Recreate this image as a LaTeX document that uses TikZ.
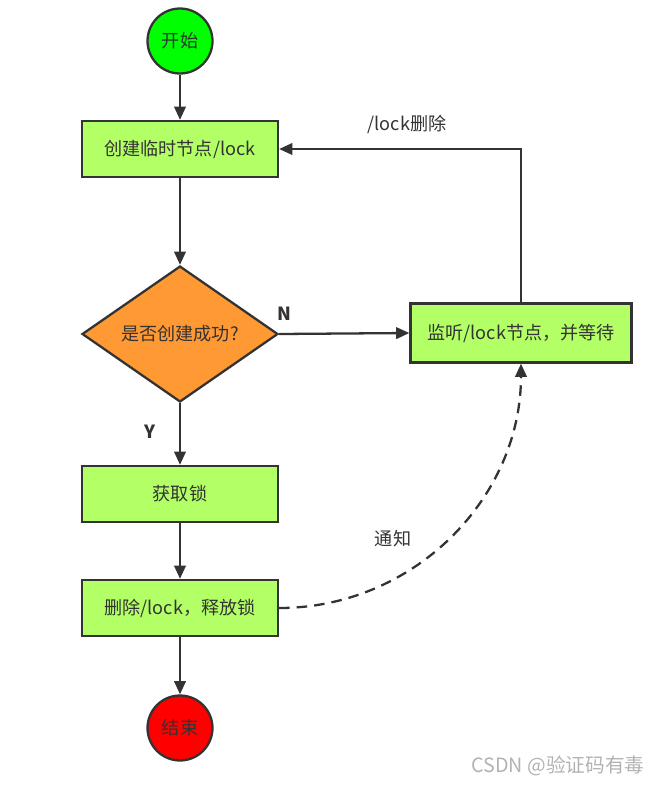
\documentclass[tikz,border=0pt]{standalone}
\usepackage{fontspec}
\setmainfont{Noto Sans CJK SC}
\usetikzlibrary{shapes.geometric,arrows.meta}
\definecolor{lineC}{HTML}{333333}
\definecolor{boxC}{HTML}{B3FF66}
\definecolor{startC}{HTML}{00FF00}
\definecolor{endC}{HTML}{FF0000}
\definecolor{decideC}{HTML}{FF9933}
\tikzset{
  txt/.style={font=\fontsize{10.3}{12}\selectfont,text=lineC},
  stepbox/.style={txt,draw=lineC,line width=1.3pt,fill=boxC,minimum width=3.92cm,minimum height=1.12cm},
  endpoint/.style={txt,circle,draw=lineC,line width=1.3pt,minimum size=1.3cm,inner sep=0pt},
  decide/.style={txt,diamond,draw=lineC,line width=1.3pt,fill=decideC,minimum width=3.92cm,minimum height=2.72cm,inner sep=0pt},
  flow/.style={-{Triangle[length=7.5pt,width=6.5pt]},draw=lineC,line width=1.3pt},
}
\begin{document}
\begin{tikzpicture}[x=0.02cm,y=-0.02cm]
        \useasboundingbox (0,0) rectangle (659,785);
        \node[endpoint,fill=startC] (start) at (180,41) {开始};
        \node[stepbox] (create) at (180,149) {创建临时节点/lock};
        \node[decide] (ok) at (180,334) {是否创建成功?};
        \node[stepbox,minimum width=4.42cm,minimum height=1.18cm] (watch) at (521,333) {监听/lock节点，并等待};
        \node[stepbox] (get) at (180,494) {获取锁};
        \node[stepbox] (release) at (180,608) {删除/lock，释放锁};
        \node[endpoint,fill=endC] (stop) at (180,728) {结束};
        \draw[flow] (start)--(create);
        \draw[flow] (create)--(ok);
        \draw[flow] (ok.east)--(watch.west);
        \draw[flow] (ok)--(get);
        \draw[flow] (get)--(release);
        \draw[flow] (release)--(stop);
        \draw[flow] (watch.north)|-(create.east);
        \draw[flow,dash pattern=on 6pt off 4pt] (release.east) to[out=0,in=-90] (watch.south);
        \node[txt] (lbl1) at (407,124) {/lock删除};
        \node[txt,font=\bfseries\fontsize{10.3}{12}\selectfont] (lblN) at (284,314) {N};
        \node[txt,font=\bfseries\fontsize{10.3}{12}\selectfont] (lblY) at (150,432) {Y};
        \node[txt] (lbl2) at (393,539) {通知};
        \node[font=\fontsize{11.2}{13}\selectfont,text=black!30] (mark) at (558,766) {CSDN @验证码有毒};
\end{tikzpicture}
\end{document}
